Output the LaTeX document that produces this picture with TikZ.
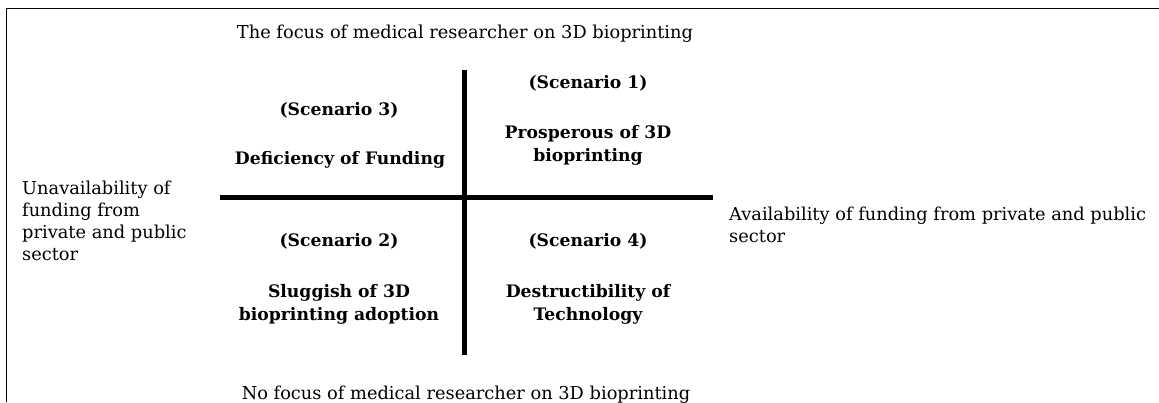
\documentclass[tikz,border=0pt]{standalone}
\usepackage{fontspec}
\setmainfont{DejaVu Serif}
\usetikzlibrary{positioning}

\tikzset{
  plain/.style={font=\fontsize{17.8}{22}\selectfont, inner sep=0pt},
  scen/.style={font=\fontsize{17.2}{23}\selectfont\bfseries, align=center, inner sep=0pt},
  axis/.style={line width=5pt},
}

\begin{document}
\begin{tikzpicture}[x=1pt,y=-1pt]
\useasboundingbox (0,0) rectangle (1159,402);
% frame
\draw[line width=1pt] (6,402) -- (6,8) -- (1159,8);

% axes
\coordinate (vtop) at (464,70);
\coordinate (vbot) at (464,355);
\coordinate (hleft) at (220,197);
\coordinate (hright) at (713,197);
\draw[axis] (vtop) -- (vbot);
\draw[axis] (hleft) -- (hright);

% axis labels
\node[plain] (focus) at (465,34) {The focus of medical researcher on 3D bioprinting};
\node[plain] (nofocus) at (466,395) {No focus of medical researcher on 3D bioprinting};
\node[plain, align=left, anchor=west] (unavail) at (22,221) {Unavailability of\\funding from\\private and public\\sector};
\node[plain, align=left, anchor=west] (avail) at (729,225) {Availability of funding from private and public\\sector};

% quadrants
\node[scen] (sc3) at (339,110) {(Scenario 3)};
\node[scen] (sc3name) at (340,160) {Deficiency of Funding};
\node[scen] (sc1) at (588,83) {(Scenario 1)};
\node[scen] (sc1name) at (588,145) {Prosperous of 3D\\bioprinting};
\node[scen] (sc2) at (339,241) {(Scenario 2)};
\node[scen] (sc2name) at (339,304) {Sluggish of 3D\\bioprinting adoption};
\node[scen] (sc4) at (588,241) {(Scenario 4)};
\node[scen] (sc4name) at (588,304) {Destructibility of\\Technology};
\end{tikzpicture}
\end{document}
